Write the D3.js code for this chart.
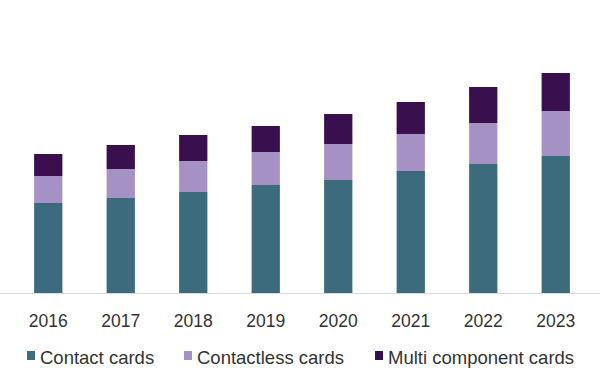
<!DOCTYPE html>
<html>
<head>
<meta charset="utf-8">
<script src="https://cdn.jsdelivr.net/npm/d3@7"></script>
<style>
  body { margin: 0; background: #fff; }
  text { font-family: "Liberation Sans", Arial, sans-serif; fill: #333; }
</style>
</head>
<body>
<script>
// chart data
var years = ["2016", "2017", "2018", "2019", "2020", "2021", "2022", "2023"];
var contact = [9.0, 9.5, 10.1, 10.8, 11.3, 12.2, 12.9, 13.7];
var contactless = [2.7, 2.9, 3.1, 3.3, 3.6, 3.7, 4.1, 4.5];
var multi = [2.2, 2.4, 2.6, 2.6, 3.0, 3.2, 3.6, 3.8];
var seriesNames = ["Contact cards", "Contactless cards", "Multi component cards"];
var colors = ["#3c6b7e", "#a591c3", "#3a0f4e"];

var svgWidth = 600;
var svgHeight = 380;

var svg = d3.select("body")
  .append("svg")
  .attr("width", svgWidth)
  .attr("height", svgHeight);

// build rows for the stack
var rows = years.map(function(y, i) {
  return { year: y, c0: contact[i], c1: contactless[i], c2: multi[i] };
});
var stacked = d3.stack().keys(["c0", "c1", "c2"])(rows);

var xScale = d3.scaleBand()
  .domain(years)
  .range([12, 592])
  .paddingInner(0.61)
  .paddingOuter(0.305);

var yScale = d3.scaleLinear()
  .domain([0, 25])
  .range([293, 43]);

// bars
svg.selectAll("g.layer")
  .data(stacked)
  .enter()
  .append("g")
  .attr("class", "layer")
  .attr("fill", (d, i) => colors[i])
  .selectAll("rect")
  .data(d => d)
  .enter()
  .append("rect")
  .attr("x", d => xScale(d.data.year))
  .attr("width", xScale.bandwidth())
  .attr("y", d => yScale(d[1]))
  .attr("height", d => yScale(d[0]) - yScale(d[1]));

// baseline
svg.append("line")
  .attr("x1", 0)
  .attr("x2", svgWidth)
  .attr("y1", yScale(0) + 0.5)
  .attr("y2", yScale(0) + 0.5)
  .attr("stroke", "#d9d9d9")
  .attr("stroke-width", 1);

// x axis labels
var bottomAxis = d3.axisBottom(xScale).tickSize(0).tickPadding(0);
var axisG = svg.append("g")
  .attr("transform", `translate(0, ${yScale(0)})`)
  .call(bottomAxis);
axisG.select(".domain").remove();
axisG.selectAll("text")
  .attr("dy", null)
  .attr("y", 34)
  .style("font-size", "17.5px")
  .style("font-family", "'Liberation Sans', Arial, sans-serif")
  .attr("fill", "#333");

// legend
var legendX = [27, 184, 375];
var legend = svg.selectAll("g.legend")
  .data(seriesNames)
  .enter()
  .append("g")
  .attr("class", "legend")
  .attr("transform", (d, i) => `translate(${legendX[i]}, 0)`);

legend.append("rect")
  .attr("x", 0)
  .attr("y", 351)
  .attr("width", 8)
  .attr("height", 9)
  .attr("fill", (d, i) => colors[i]);

legend.append("text")
  .attr("x", 13)
  .attr("y", 364)
  .style("font-size", "18.5px")
  .text(d => d);
</script>
</body>
</html>
